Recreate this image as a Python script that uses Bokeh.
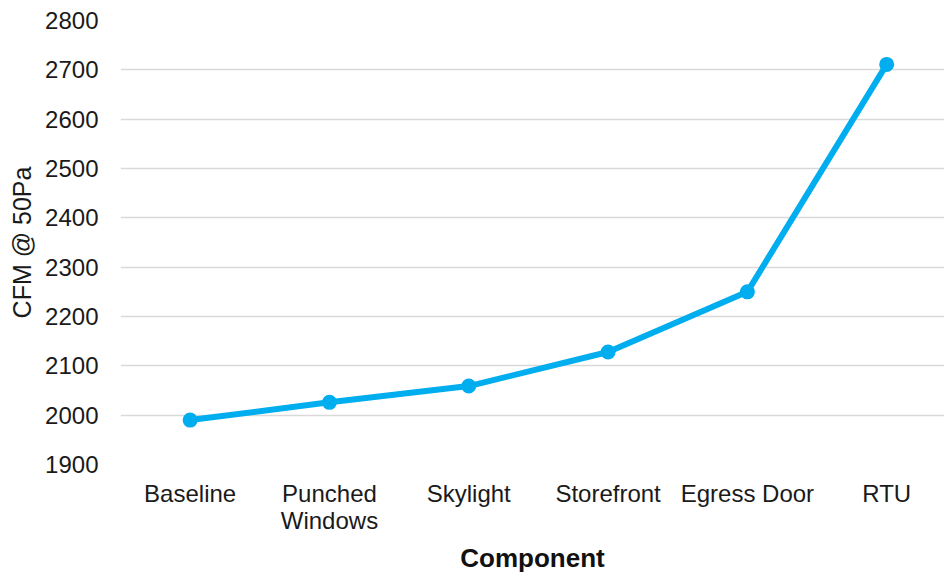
from bokeh.plotting import figure
from bokeh.models import Range1d, FixedTicker
from bokeh.embed import file_html
from bokeh.resources import INLINE

# Air leakage by component
components = ["Baseline", "Punched\nWindows", "Skylight", "Storefront", "Egress Door", "RTU"]
cfm_50pa = [1990, 2026, 2059, 2128, 2250, 2711]
y_ticks = [1900, 2000, 2100, 2200, 2300, 2400, 2500, 2600, 2700, 2800]

FONT = "Liberation Sans"
BLUE = "#00AEEF"

xs = [i + 0.5 for i in range(len(components))]

p = figure(
    frame_width=824, frame_height=444,
    x_range=Range1d(0, 5.915), y_range=Range1d(1900, 2800),
    output_backend="svg", toolbar_location=None,
    min_border_left=120, min_border_right=0,
    min_border_top=20, min_border_bottom=108,
)
p.outline_line_color = None
p.background_fill_color = "white"
p.border_fill_color = "white"

# horizontal gridlines only
p.xgrid.grid_line_color = None
p.ygrid.grid_line_color = "#D9D9D9"
p.ygrid.grid_line_width = 1.5
p.ygrid.ticker = FixedTicker(ticks=y_ticks)

# y axis
p.yaxis.ticker = FixedTicker(ticks=y_ticks)
p.yaxis.axis_line_color = None
p.yaxis.major_tick_line_color = None
p.yaxis.minor_tick_line_color = None
p.yaxis.major_label_text_font = FONT
p.yaxis.major_label_text_font_size = "24px"
p.yaxis.major_label_text_color = "#1a1a1a"
p.yaxis.major_label_standoff = 16
p.yaxis.axis_label = "CFM @ 50Pa"
p.yaxis.axis_label_text_font = FONT
p.yaxis.axis_label_text_font_size = "25px"
p.yaxis.axis_label_text_font_style = "normal"
p.yaxis.axis_label_text_color = "#1a1a1a"
p.yaxis.axis_label_standoff = 6

# x axis with category names
p.xaxis.ticker = FixedTicker(ticks=xs)
p.xaxis.major_label_overrides = {x: c for x, c in zip(xs, components)}
p.xaxis.axis_line_color = None
p.xaxis.major_tick_line_color = None
p.xaxis.minor_tick_line_color = None
p.xaxis.major_label_text_font = FONT
p.xaxis.major_label_text_font_size = "24px"
p.xaxis.major_label_text_color = "#1a1a1a"
p.xaxis.major_label_text_line_height = 1.0
p.xaxis.major_label_standoff = 9
p.xaxis.axis_label = "Component"
p.xaxis.axis_label_text_font = FONT
p.xaxis.axis_label_text_font_size = "26px"
p.xaxis.axis_label_text_font_style = "bold"
p.xaxis.axis_label_text_color = "#111111"
p.xaxis.axis_label_standoff = 6

p.line(xs, cfm_50pa, line_color=BLUE, line_width=6, line_join="round")
p.scatter(xs, cfm_50pa, size=15, fill_color=BLUE, line_color=None)

open("out.html", "w").write(file_html(p, INLINE))
